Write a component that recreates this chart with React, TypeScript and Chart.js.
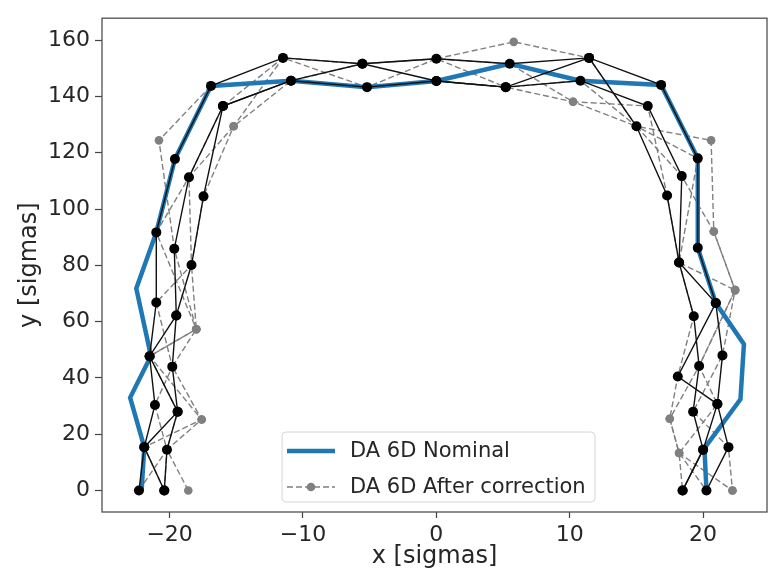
import { useEffect, useRef } from 'react';
import { Chart, registerables } from 'chart.js';

Chart.register(...registerables);

const FONT = 'DejaVu Sans';

// tick labels
const xTicks = [-20, -10, 0, 10, 20];
const yTicks = [0, 20, 40, 60, 80, 100, 120, 140, 160];

// DA 6D Nominal
const nominalX = [-22.1, -21.9, -22.96, -21.4, -22.5, -21.0, -19.6, -16.9, -10.9, -5.2, 0, 5.5, 10.8, 16.85, 19.6, 19.6, 20.95, 23.06, 22.8, 20.1, 20.25];
const nominalY = [0, 15.4, 33, 47.8, 71.8, 91.7, 117.8, 143.75, 145.6, 143.3, 145.5, 151.6, 145.6, 144.1, 118, 86.2, 66.6, 52, 32.4, 15.0, 0];

// After correction (dashed, grey)
const corrAX = [-18.6, -20.2, -17.6, -19.8, -18.0, -19.65, -20.8, -16.9, -10.9, -5.55, 0, 5.8, 11.45, 15.0, 20.6, 20.8, 22.4, 19.7, 17.5, 18.2, 22.2];
const corrAY = [0, 14.5, 25.2, 44, 57.3, 85.9, 124.4, 143.75, 145.6, 151.6, 153.4, 159.4, 153.7, 129.4, 124.4, 92, 71.2, 44.2, 25.5, 13.3, 0];
const corrBX = [-22.3, -20.2, -21.1, -19.8, -21.0, -18.36, -18.55, -15.2, -10.9, -5.2, 0, 5.2, 10.25, 15.0, 18.4, 20.8, 22.4, 21.45, 19.25, 21.9, 22.2];
const corrBY = [0, 14.5, 30.4, 44, 66.8, 80.1, 111.3, 129.4, 145.6, 143.3, 145.5, 143.3, 138.1, 129.4, 111.7, 92, 71.2, 48, 28, 15.4, 0];
const corrCX = [-20.4, -20.2, -19.4, -21.5, -18.0, -18.36, -17.46, -15.2, -11.5, -5.55, 0, 5.5, 10.25, 15.85, 17.3, 18.2, 19.3, 18.1, 17.5, 18.2, 20.25];
const corrCY = [0, 14.5, 28, 47.7, 57.3, 80.1, 104.5, 129.4, 153.7, 151.6, 153.4, 151.6, 138.1, 136.6, 104.8, 81, 61.9, 40.5, 25.5, 13.3, 0];
const corrDX = [-20.4, -21.9, -17.6, -21.5, -18.0, -21.0, -18.55, -16.0, -11.5, -5.2, 0, 5.2, 10.8, 15.0, 19.6, 18.2, 22.4, 19.7, 21.07, 18.2, 18.46];
const corrDY = [0, 15.4, 25.2, 47.7, 57.3, 91.7, 111.3, 136.6, 153.7, 143.3, 153.4, 143.3, 145.6, 129.4, 118, 81, 71.2, 44.2, 30.7, 13.3, 0];

// seeds (solid, black)
const seed1X = [-22.3, -21.9, -21.1, -21.5, -21.0, -21.0, -19.6, -16.9, -11.5, -5.55, 0, 5.5, 11.45, 16.85, 19.6, 19.6, 20.95, 21.45, 21.07, 21.9, 20.25];
const seed1Y = [0, 15.4, 30.4, 47.7, 66.8, 91.7, 117.8, 143.75, 153.7, 151.6, 153.4, 151.6, 153.7, 144.1, 118, 86.2, 66.6, 48, 30.7, 15.4, 0];
const seed2X = [-20.4, -20.2, -19.4, -19.8, -19.5, -19.65, -18.55, -16.0, -10.9, -5.2, 0, 5.2, 10.8, 15.85, 18.4, 18.2, 19.3, 19.7, 19.25, 20.0, 18.46];
const seed2Y = [0, 14.5, 28, 44, 62.2, 85.9, 111.3, 136.6, 145.6, 143.3, 145.5, 143.3, 145.6, 136.6, 111.7, 81, 61.9, 44.2, 28, 14.5, 0];
const seed3X = [-20.4, -21.9, -19.4, -21.5, -19.5, -18.36, -17.46, -16.0, -10.9, -5.55, 0, 5.2, 11.45, 15.0, 17.3, 18.2, 20.95, 18.1, 21.07, 20.0, 18.46];
const seed3Y = [0, 15.4, 28, 47.7, 62.2, 80.1, 104.5, 136.6, 145.6, 151.6, 145.5, 143.3, 153.7, 129.4, 104.8, 81, 66.6, 40.5, 30.7, 14.5, 0];

const pts = (xs: number[], ys: number[]) => xs.map((x, i) => ({ x, y: ys[i] }));

const BLUE = '#1f77b4';
const GREY = '#808080';

const framePlugin = {
  id: 'frame',
  afterDatasetsDraw(chart: any) {
    const { ctx, chartArea: a } = chart;
    ctx.save();
    ctx.strokeStyle = '#505050';
    ctx.lineWidth = 1.3;
    ctx.strokeRect(a.left, a.top, a.right - a.left, a.bottom - a.top);
    ctx.restore();
  },
};

const legendPlugin = {
  id: 'mplLegend',
  afterDraw(chart: any) {
    const { ctx } = chart;
    const items = chart.data.datasets
      .filter((d: any) => d.legendIndex !== undefined)
      .sort((a: any, b: any) => a.legendIndex - b.legendIndex);
    const bx = 282, by = 432, bw = 313, bh = 70;
    ctx.save();
    ctx.beginPath();
    ctx.roundRect(bx, by, bw, bh, 4);
    ctx.fillStyle = 'rgba(255,255,255,0.85)';
    ctx.fill();
    ctx.strokeStyle = '#d6d6d6';
    ctx.lineWidth = 1;
    ctx.stroke();
    items.forEach((d: any, i: number) => {
      const cy = 451 + i * 36;
      ctx.beginPath();
      ctx.setLineDash(d.borderDash || []);
      ctx.strokeStyle = d.borderColor;
      ctx.lineWidth = d.borderWidth;
      ctx.moveTo(287, cy);
      ctx.lineTo(335, cy);
      ctx.stroke();
      ctx.setLineDash([]);
      if (d.pointRadius > 0) {
        ctx.beginPath();
        ctx.fillStyle = d.pointBackgroundColor;
        ctx.arc(311, cy, d.pointRadius, 0, Math.PI * 2);
        ctx.fill();
      }
      ctx.fillStyle = '#262626';
      ctx.font = `21px "${FONT}"`;
      ctx.textBaseline = 'middle';
      ctx.textAlign = 'left';
      ctx.fillText(d.label, 350, cy + 1);
    });
    ctx.restore();
  },
};

const fmt = (v: number) => (v < 0 ? '\u2212' + Math.abs(v) : String(v));

export default function App() {
  const ref = useRef<HTMLCanvasElement>(null);
  useEffect(() => {
    if (!ref.current) return;
    const grey = (label: string, xs: number[], ys: number[], legendIndex?: number) => ({
      label,
      legendIndex,
      data: pts(xs, ys),
      showLine: true,
      borderColor: GREY,
      borderWidth: 1.4,
      borderDash: [6, 3],
      pointRadius: 4.3,
      pointBackgroundColor: GREY,
      pointBorderWidth: 0,
      tension: 0,
    });
    const black = (label: string, xs: number[], ys: number[]) => ({
      label,
      data: pts(xs, ys),
      showLine: true,
      borderColor: '#111111',
      borderWidth: 1.4,
      pointRadius: 5,
      pointBackgroundColor: '#000000',
      pointBorderWidth: 0,
      tension: 0,
    });
    // Chart.js draws dataset 0 last (on top): seeds first, then nominal, then corrected runs
    const chart = new Chart(ref.current, {
      type: 'scatter',
      data: {
        datasets: [
          black('seed 1', seed1X, seed1Y),
          black('seed 2', seed2X, seed2Y),
          black('seed 3', seed3X, seed3Y),
          {
            label: 'DA 6D Nominal',
            legendIndex: 0,
            data: pts(nominalX, nominalY),
            showLine: true,
            borderColor: BLUE,
            borderWidth: 4.5,
            pointRadius: 0,
            tension: 0,
          } as any,
          grey('DA 6D After correction', corrAX, corrAY, 1),
          grey('corr B', corrBX, corrBY),
          grey('corr C', corrCX, corrCY),
          grey('corr D', corrDX, corrDY),
        ],
      },
      options: {
        animation: false,
        responsive: false,
        events: [],
        layout: { padding: { top: 7, right: 1, left: 0, bottom: 0 } },
        plugins: { legend: { display: false }, tooltip: { enabled: false } },
        scales: {
          x: {
            type: 'linear',
            min: -25.07,
            max: 24.79,
            afterBuildTicks: (s: any) => { s.ticks = xTicks.map((v) => ({ value: v })); },
            afterFit: (s: any) => { s.height = 60; },
            border: { display: false },
            grid: { drawOnChartArea: false, drawTicks: true, tickLength: 6, tickColor: '#444', tickWidth: 1.2 },
            ticks: { color: '#262626', font: { family: FONT, size: 22 }, padding: 4, maxRotation: 0, callback: (v: any) => fmt(v) },
            title: { display: true, text: 'x [sigmas]', color: '#262626', font: { family: FONT, size: 24 }, padding: { top: 0, bottom: 1 } },
          },
          y: {
            type: 'linear',
            min: -7.64,
            max: 167.8,
            afterBuildTicks: (s: any) => { s.ticks = yTicks.map((v) => ({ value: v })); },
            afterFit: (s: any) => { s.width = 102; },
            border: { display: false },
            grid: { drawOnChartArea: false, drawTicks: true, tickLength: 7, tickColor: '#444', tickWidth: 1.2 },
            ticks: { color: '#262626', font: { family: FONT, size: 22 }, padding: 5, callback: (v: any) => fmt(v) },
            title: { display: true, text: 'y [sigmas]', color: '#262626', font: { family: FONT, size: 24 }, padding: { top: 15, bottom: 0 } },
          },
        },
      } as any,
      plugins: [framePlugin, legendPlugin],
    });
    return () => chart.destroy();
  }, []);
  return (
    <div style={{ position: 'absolute', left: 0, top: 0, width: 772, height: 572, background: '#fff' }}>
      <canvas ref={ref} width={772} height={572} />
    </div>
  );
}
